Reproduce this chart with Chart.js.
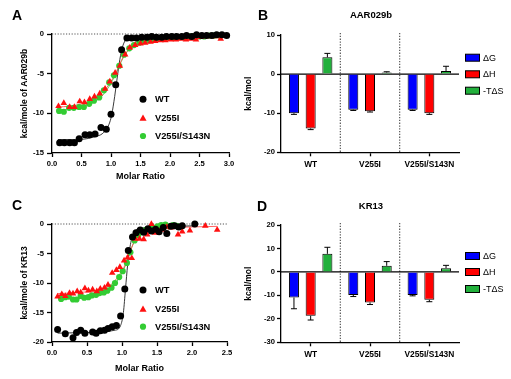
<!DOCTYPE html>
<html>
<head>
<meta charset="utf-8">
<script src="https://cdn.jsdelivr.net/npm/chart.js"></script>
<style>
html,body{margin:0;padding:0;background:#fff;}
#wrap{position:relative;width:511px;height:379px;overflow:hidden;background:#fff;font-family:"Liberation Sans",Arial,sans-serif;}
canvas{position:absolute;}
.lbl{position:absolute;font-weight:bold;color:#000;line-height:1;white-space:nowrap;transform:translate(-50%,-50%);}
</style>
</head>
<body>
<div id="wrap">
  <canvas id="cA" width="256" height="190" style="left:0;top:0;width:256px;height:190px"></canvas>
  <canvas id="cB" width="275" height="190" style="left:236px;top:0;width:275px;height:190px"></canvas>
  <canvas id="cC" width="256" height="189" style="left:0;top:190px;width:256px;height:189px"></canvas>
  <canvas id="cD" width="275" height="189" style="left:236px;top:190px;width:275px;height:189px"></canvas>
  <div class="lbl" style="left:17px;top:15px;font-size:14px">A</div>
  <div class="lbl" style="left:263px;top:15px;font-size:14px">B</div>
  <div class="lbl" style="left:17px;top:205px;font-size:14px">C</div>
  <div class="lbl" style="left:262px;top:206px;font-size:14px">D</div>
  <div class="lbl" style="left:371px;top:15px;font-size:9.5px">AAR029b</div>
  <div class="lbl" style="left:371px;top:206px;font-size:9.5px">KR13</div>
</div>
<script>
// ================= DATA =================
const seriesNames = ['WT', 'V255I', 'V255I/S143N'];
const energyTerms = ['ΔG', 'ΔH', '-TΔS'];

// ---- Panel A: ITC isotherms, AAR029b ----
const ratioA_WT = [0.13,0.21,0.30,0.38,0.46,0.56,0.64,0.73,0.83,0.92,1.00,1.08,1.18,1.27,1.35,1.43,1.52,1.61,1.69,1.77,1.86,1.94,2.03,2.11,2.20,2.28,2.37,2.45,2.54,2.62,2.71,2.79,2.88,2.96];
const heatA_WT  = [-13.7,-13.7,-13.7,-13.7,-13.2,-12.7,-12.7,-12.6,-11.8,-12.0,-10.1,-6.4,-2.0,-0.5,-0.5,-0.5,-0.4,-0.4,-0.3,-0.4,-0.4,-0.3,-0.3,-0.3,-0.3,-0.2,-0.3,-0.1,-0.2,-0.2,-0.2,-0.1,-0.1,-0.2];
const ratioA_V255I = [0.11,0.20,0.30,0.38,0.47,0.55,0.64,0.72,0.81,0.90,0.98,1.07,1.15,1.24,1.32,1.41,1.50,1.58,1.67,1.75,1.84,1.92,2.01,2.10,2.18,2.27,2.35,2.44,2.52,2.61,2.69,2.78,2.86];
const heatA_V255I  = [-9.1,-8.7,-9.2,-9.2,-8.5,-8.6,-8.2,-7.9,-7.5,-6.9,-6.0,-4.9,-4.0,-2.6,-1.7,-1.4,-1.2,-1.1,-1.0,-0.9,-0.8,-0.8,-0.7,-0.7,-0.6,-0.7,-0.6,-0.7,-0.4,-0.3,-0.3,-0.3,-0.6];
const ratioA_DM = [0.12,0.20,0.29,0.37,0.46,0.54,0.63,0.71,0.80,0.88,0.97,1.05,1.14,1.22,1.31,1.39,1.48,1.56,1.65,1.73,1.82,1.90,1.99,2.07,2.16,2.24,2.33,2.41,2.50,2.58,2.67,2.75,2.84];
const heatA_DM  = [-9.7,-9.8,-9.3,-9.3,-9.2,-9.2,-8.8,-8.4,-8.0,-7.1,-6.1,-5.2,-4.0,-2.6,-1.8,-1.4,-1.1,-0.9,-0.8,-0.7,-0.6,-0.6,-0.5,-0.5,-0.4,-0.4,-0.3,-0.3,-0.3,-0.3,-0.2,-0.2,-0.2];
// fitted curves
const fitA_WT_x = [0.10,0.40,0.70,0.90,1.00,1.05,1.10,1.15,1.20,1.27,1.40,2.00,3.00];
const fitA_WT_y = [-13.3,-13.3,-13.0,-12.2,-10.6,-8.5,-5.8,-3.2,-1.5,-0.6,-0.35,-0.2,-0.15];
const fitA_V255I_x = [0.10,0.30,0.50,0.70,0.85,1.00,1.10,1.20,1.30,1.40,1.60,2.00,2.50,2.90];
const fitA_V255I_y = [-9.2,-9.1,-8.8,-8.2,-7.4,-6.0,-4.6,-3.0,-2.0,-1.5,-1.1,-0.8,-0.5,-0.4];
const fitA_DM_x = [0.10,0.30,0.50,0.70,0.85,1.00,1.10,1.20,1.30,1.40,1.60,2.00,2.50,2.90];
const fitA_DM_y = [-9.6,-9.5,-9.2,-8.6,-7.8,-6.2,-4.7,-3.1,-2.0,-1.5,-1.0,-0.6,-0.35,-0.25];

// ---- Panel C: ITC isotherms, KR13 ----
const ratioC_WT = [0.08,0.19,0.30,0.35,0.41,0.47,0.58,0.63,0.69,0.75,0.80,0.86,0.92,0.98,1.04,1.09,1.15,1.20,1.26,1.31,1.37,1.42,1.48,1.53,1.59,1.64,1.70,1.75,1.81,1.86,2.04];
const heatC_WT  = [-17.9,-18.6,-19.3,-18.4,-18.0,-18.5,-18.3,-18.5,-18.1,-18.0,-17.7,-17.4,-17.2,-15.6,-11.0,-4.5,-2.2,-1.5,-1.0,-1.4,-0.8,-1.2,-0.9,-1.3,-0.6,-1.6,-0.4,-0.3,-0.5,-0.3,0.0];
const ratioC_V255I = [0.08,0.14,0.19,0.25,0.30,0.36,0.41,0.47,0.52,0.58,0.64,0.69,0.75,0.80,0.86,0.92,0.97,1.03,1.08,1.14,1.19,1.25,1.31,1.36,1.42,1.47,1.53,1.58,1.64,1.70,1.80,1.86,1.97,2.19,2.36];
const heatC_V255I  = [-12.3,-11.9,-12.2,-11.7,-11.8,-11.4,-11.6,-10.9,-11.3,-11.1,-11.4,-11.0,-10.8,-10.3,-8.3,-7.8,-7.3,-6.2,-5.7,-5.8,-2.5,-2.5,-2.6,-1.8,0.0,-1.5,-1.2,-1.0,-0.5,-0.6,-1.8,-1.3,-1.1,-0.3,-1.0];
const ratioC_DM = [0.13,0.19,0.24,0.30,0.35,0.41,0.46,0.52,0.57,0.63,0.68,0.74,0.79,0.85,0.90,0.96,1.01,1.07,1.12,1.18,1.23,1.29,1.34,1.40,1.45,1.51,1.56,1.62,1.67,1.73,1.78,1.84];
const heatC_DM  = [-12.7,-12.4,-12.3,-12.8,-12.8,-12.2,-12.5,-12.4,-12.1,-12.0,-11.7,-11.6,-11.3,-10.8,-10.0,-9.0,-8.0,-6.6,-4.8,-2.8,-1.9,-1.3,-1.0,-0.8,-0.6,-0.4,-0.2,-0.1,-0.4,-0.2,-0.3,-0.5];
const fitC_WT_x = [0.08,0.50,0.90,0.98,1.02,1.05,1.08,1.12,1.17,1.25,1.50,2.05];
const fitC_WT_y = [-18.5,-18.4,-18.0,-17.2,-15.0,-11.0,-7.0,-3.5,-1.5,-0.8,-0.5,-0.3];
const fitC_V255I_x = [0.08,0.40,0.70,0.85,0.95,1.05,1.12,1.20,1.30,1.50,2.00,2.36];
const fitC_V255I_y = [-11.8,-11.6,-11.1,-10.2,-8.8,-6.8,-4.5,-2.4,-1.3,-0.8,-0.5,-0.4];
const fitC_DM_x = [0.13,0.40,0.70,0.85,0.95,1.05,1.12,1.20,1.30,1.50,1.84];
const fitC_DM_y = [-12.6,-12.4,-11.8,-10.9,-9.3,-7.0,-4.6,-2.4,-1.2,-0.5,-0.3];

// ---- Panel B: thermodynamic parameters, AAR029b (kcal/mol) ----
const dG_B   = [-10.0, -9.1, -9.1];
const dG_B_err = [0.3, 0.2, 0.2];
const dH_B   = [-13.9, -9.5, -10.0];
const dH_B_err = [0.3, 0.2, 0.3];
const TdS_B  = [4.3, 0.4, 0.8];
const TdS_B_err = [1.0, 0.2, 1.2];

// ---- Panel D: thermodynamic parameters, KR13 (kcal/mol) ----
const dG_D   = [-10.9, -9.8, -9.8];
const dG_D_err = [4.8, 0.7, 0.4];
const dH_D   = [-18.7, -13.0, -11.9];
const dH_D_err = [1.8, 0.9, 0.8];
const TdS_D  = [7.7, 2.6, 1.6];
const TdS_D_err = [2.8, 1.8, 1.2];

// ================= STYLE =================
const FONT = '"Liberation Sans", Arial, sans-serif';
const BLACK = '#000000', RED = '#FF1010', GREEN = '#33CC33';
const BAR_BLUE = '#0000FF', BAR_RED = '#FF0000', BAR_GREEN = '#22B03C';
Chart.defaults.font.family = FONT;
Chart.defaults.color = '#000';

function zeroPad(s){ s.paddingLeft = 0; s.paddingRight = 0; s.paddingTop = 0; s.paddingBottom = 0; }
const pts = (xs, ys) => xs.map((x, i) => ({x: x, y: ys[i]}));

function drawMarker(ctx, style, x, y, r, color){
  ctx.fillStyle = color;
  ctx.beginPath();
  if (style === 'triangle') {
    ctx.moveTo(x, y - r);
    ctx.lineTo(x + r * 0.94, y + r * 0.65);
    ctx.lineTo(x - r * 0.94, y + r * 0.65);
    ctx.closePath();
  } else {
    ctx.arc(x, y, r, 0, Math.PI * 2);
  }
  ctx.fill();
}

const zeroDotted = {
  id: 'zeroDotted',
  beforeDatasetsDraw(chart){
    const {ctx, chartArea, scales} = chart;
    const y = scales.y.getPixelForValue(0);
    ctx.save();
    ctx.strokeStyle = '#555';
    ctx.lineWidth = 1;
    ctx.setLineDash([1.2, 1.6]);
    ctx.beginPath(); ctx.moveTo(chartArea.left, y); ctx.lineTo(chartArea.right, y); ctx.stroke();
    ctx.restore();
  }
};

function pointLegend(items){
  return {
    id: 'pointLegend',
    afterDraw(chart){
      const ctx = chart.ctx;
      ctx.save();
      items.forEach(it => {
        drawMarker(ctx, it.style, it.x, it.y, it.r, it.color);
        ctx.fillStyle = '#000';
        ctx.font = 'bold 9.3px ' + FONT;
        ctx.textAlign = 'left'; ctx.textBaseline = 'middle';
        ctx.fillText(it.text, it.tx, it.y + 0.5);
      });
      ctx.restore();
    }
  };
}

function isoChart(id, o){
  const scat = (label, xs, ys, style, r, color) => ({
    label, data: pts(xs, ys), pointStyle: style, pointRadius: r, pointBorderWidth: 0,
    backgroundColor: color, borderColor: color, showLine: false, clip: false
  });
  const fit = (label, xs, ys, color) => ({
    label, data: pts(xs, ys), showLine: true, pointRadius: 0, borderColor: color,
    borderWidth: 0.9, cubicInterpolationMode: 'monotone', fill: false, clip: false
  });
  const ds = [
    scat(seriesNames[0], o.wt[0], o.wt[1], 'circle', 3.5, BLACK),
    scat(seriesNames[1], o.v[0], o.v[1], 'triangle', 3.8, RED),
    scat(seriesNames[2], o.dm[0], o.dm[1], 'circle', 3.1, GREEN),
    fit('fit ' + seriesNames[0], o.fwt[0], o.fwt[1], '#222'),
    fit('fit ' + seriesNames[1], o.fv[0], o.fv[1], '#FF5050'),
    fit('fit ' + seriesNames[2], o.fdm[0], o.fdm[1], '#55CC55')
  ];
  return new Chart(document.getElementById(id), {
    type: 'scatter',
    data: {datasets: ds},
    options: {
      responsive: false, animation: false, events: [],
      layout: {padding: o.pad},
      plugins: {legend: {display: false}, tooltip: {enabled: false}},
      scales: {
        x: {
          type: 'linear', min: 0, max: o.xMax,
          afterFit: s => { s.height = o.xH; zeroPad(s); },
          ticks: {stepSize: 0.5, callback: v => Number(v).toFixed(1), color: '#000',
                  font: {size: 7.6, weight: 'bold'}, padding: 2.5, maxRotation: 0, autoSkip: false},
          grid: {drawOnChartArea: false, drawTicks: true, tickLength: 4, tickColor: '#000', tickWidth: 1.3},
          border: {color: '#000', width: 1.3},
          title: {display: true, text: 'Molar Ratio', color: '#000', font: {size: 9, weight: 'bold'}, padding: {top: 2, bottom: 4}}
        },
        y: {
          min: o.yMin, max: 0,
          afterFit: s => { s.width = o.yW; zeroPad(s); },
          ticks: {stepSize: 5, callback: v => String(v), color: '#000', font: {size: 7.6, weight: 'bold'}, padding: 3},
          grid: {drawOnChartArea: false, drawTicks: true, tickLength: 5, tickColor: '#000', tickWidth: 1.3},
          border: {color: '#000', width: 1.3},
          title: {display: true, text: o.yTitle, color: '#000', font: {size: 8.5, weight: 'bold'}, padding: {top: 4, bottom: 4}}
        }
      }
    },
    plugins: [zeroDotted, pointLegend(o.legend)]
  });
}

const separators = {
  id: 'separators',
  beforeDatasetsDraw(chart){
    const {ctx, chartArea, scales} = chart;
    const n = chart.data.labels.length;
    ctx.save();
    ctx.strokeStyle = '#555'; ctx.lineWidth = 1.2; ctx.setLineDash([1.3, 1.5]);
    for (let i = 0; i < n - 1; i++) {
      const x = (scales.x.getPixelForValue(i) + scales.x.getPixelForValue(i + 1)) / 2;
      ctx.beginPath(); ctx.moveTo(x, chartArea.top - 2); ctx.lineTo(x, chartArea.bottom); ctx.stroke();
    }
    ctx.setLineDash([]);
    const y0 = scales.y.getPixelForValue(0);
    ctx.strokeStyle = '#000'; ctx.lineWidth = 1.3;
    ctx.beginPath(); ctx.moveTo(chartArea.left, y0); ctx.lineTo(chartArea.right, y0); ctx.stroke();
    ctx.restore();
  }
};

const errorBars = {
  id: 'errorBars',
  afterDatasetsDraw(chart){
    const {ctx, scales} = chart;
    ctx.save();
    ctx.strokeStyle = '#000'; ctx.lineWidth = 1;
    chart.data.datasets.forEach((ds, i) => {
      const meta = chart.getDatasetMeta(i);
      meta.data.forEach((bar, j) => {
        const v = ds.data[j], e = ds.errors[j];
        const end = v + (v < 0 ? -e : e);
        const ya = scales.y.getPixelForValue(v), yb = scales.y.getPixelForValue(end);
        ctx.beginPath();
        ctx.moveTo(bar.x, ya); ctx.lineTo(bar.x, yb);
        ctx.moveTo(bar.x - 3, yb); ctx.lineTo(bar.x + 3, yb);
        ctx.stroke();
      });
    });
    ctx.restore();
  }
};

function boxLegend(items){
  return {
    id: 'boxLegend',
    afterDraw(chart){
      const ctx = chart.ctx;
      ctx.save();
      chart.data.datasets.forEach((ds, i) => {
        const it = items[i];
        ctx.fillStyle = ds.backgroundColor;
        ctx.fillRect(it.x, it.y - 3.5, 15, 7);
        ctx.strokeStyle = '#000'; ctx.lineWidth = 1;
        ctx.strokeRect(it.x + 0.5, it.y - 3.5, 14, 7);
        ctx.fillStyle = '#000';
        ctx.font = '9px ' + FONT;
        ctx.textAlign = 'left'; ctx.textBaseline = 'middle';
        ctx.fillText(ds.label, it.x + 18, it.y + 0.5);
      });
      ctx.restore();
    }
  };
}

function energyChart(id, o){
  const bar = (label, vals, errs, color) => ({
    label, data: vals, errors: errs, backgroundColor: color, borderColor: '#000', borderWidth: 1
  });
  return new Chart(document.getElementById(id), {
    type: 'bar',
    data: {
      labels: seriesNames,
      datasets: [
        bar(energyTerms[0], o.g, o.gErr, BAR_BLUE),
        bar(energyTerms[1], o.h, o.hErr, BAR_RED),
        bar(energyTerms[2], o.s, o.sErr, BAR_GREEN)
      ]
    },
    options: {
      responsive: false, animation: false, events: [],
      layout: {padding: o.pad},
      datasets: {bar: {barPercentage: 0.6, categoryPercentage: 0.845}},
      plugins: {legend: {display: false}, tooltip: {enabled: false}},
      scales: {
        x: {
          afterFit: s => { s.height = o.xH; zeroPad(s); },
          ticks: {color: '#000', font: {size: 8.4, weight: 'bold'}, padding: 3, maxRotation: 0, autoSkip: false},
          grid: {offset: false, drawOnChartArea: false, drawTicks: true, tickLength: 4, tickColor: '#000', tickWidth: 1.3},
          border: {color: '#000', width: 1.3}
        },
        y: {
          min: o.yMin, max: o.yMax,
          afterFit: s => { s.width = o.yW; zeroPad(s); },
          ticks: {stepSize: 10, callback: v => String(v), color: '#000', font: {size: 7.6, weight: 'bold'}, padding: 2},
          grid: {drawOnChartArea: false, drawTicks: true, tickLength: 4, tickColor: '#000', tickWidth: 1.3},
          border: {color: '#000', width: 1.3},
          title: {display: true, text: 'kcal/mol', color: '#000', font: {size: 8.5, weight: 'bold'}, padding: {top: 4, bottom: 4}}
        }
      }
    },
    plugins: [separators, errorBars, boxLegend(o.legend)]
  });
}

// ================= BUILD =================
const legendRows = (ys) => [
  {style: 'circle', r: 3.5, color: BLACK, text: seriesNames[0], x: 143, tx: 155, y: ys[0]},
  {style: 'triangle', r: 3.8, color: RED, text: seriesNames[1], x: 143, tx: 155, y: ys[1]},
  {style: 'circle', r: 3.1, color: GREEN, text: seriesNames[2], x: 143, tx: 155, y: ys[2]}
];

isoChart('cA', {
  wt: [ratioA_WT, heatA_WT], v: [ratioA_V255I, heatA_V255I], dm: [ratioA_DM, heatA_DM],
  fwt: [fitA_WT_x, fitA_WT_y], fv: [fitA_V255I_x, fitA_V255I_y], fdm: [fitA_DM_x, fitA_DM_y],
  xMax: 3, yMin: -15, yTitle: 'kcal/mole of AAR029b',
  pad: {left: 16, top: 34, right: 27, bottom: 4}, yW: 36, xH: 33,
  legend: legendRows([99.3, 118.3, 136])
});

isoChart('cC', {
  wt: [ratioC_WT, heatC_WT], v: [ratioC_V255I, heatC_V255I], dm: [ratioC_DM, heatC_DM],
  fwt: [fitC_WT_x, fitC_WT_y], fv: [fitC_V255I_x, fitC_V255I_y], fdm: [fitC_DM_x, fitC_DM_y],
  xMax: 2.5, yMin: -20, yTitle: 'kcal/mole of KR13',
  pad: {left: 16, top: 34, right: 29, bottom: 1.4}, yW: 36, xH: 35.6,
  legend: legendRows([100, 119.3, 136.7])
});

energyChart('cB', {
  g: dG_B, gErr: dG_B_err, h: dH_B, hErr: dH_B_err, s: TdS_B, sErr: TdS_B_err,
  yMin: -20, yMax: 10,
  pad: {left: 4, top: 35, right: 52, bottom: 7.7}, yW: 41, xH: 30,
  legend: [{x: 229, y: 57.7}, {x: 229, y: 74.3}, {x: 229, y: 90.7}]
});

energyChart('cD', {
  g: dG_D, gErr: dG_D_err, h: dH_D, hErr: dH_D_err, s: TdS_D, sErr: TdS_D_err,
  yMin: -30, yMax: 20,
  pad: {left: 4, top: 35, right: 52, bottom: 6.7}, yW: 41, xH: 30,
  legend: [{x: 229, y: 66}, {x: 229, y: 82}, {x: 229, y: 99}]
});
</script>
</body>
</html>
